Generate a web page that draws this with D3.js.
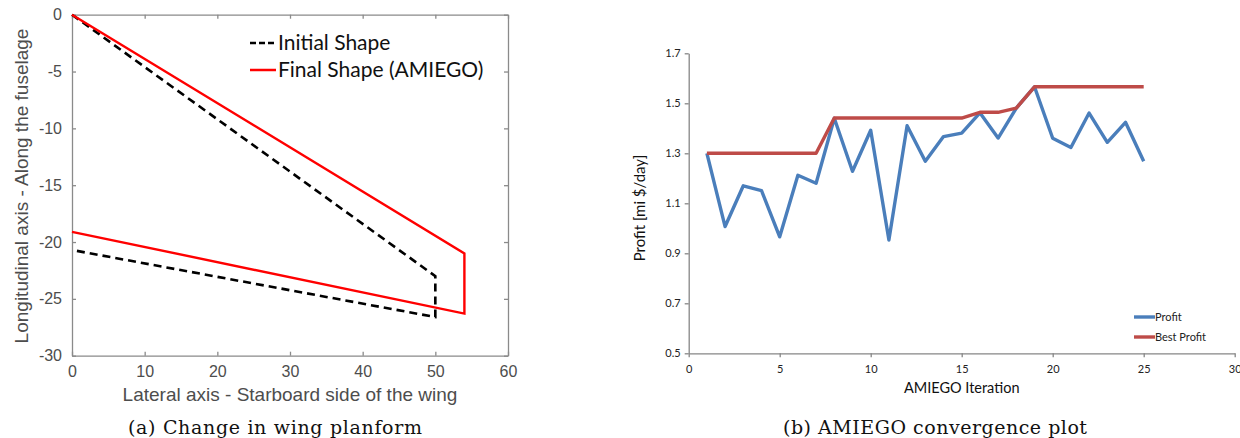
<!DOCTYPE html>
<html lang="en">

<head>
    <meta charset="utf-8">
    <script src="https://d3js.org/d3.v7.min.js"></script>
    <style>
        body {
            margin: 0;
            background: #fff;
        }

        .axis-a text {
            font-family: "Liberation Sans", Arial, sans-serif;
            font-size: 16px;
            fill: #4d4d4d;
        }

        .axis-b text {
            font-family: Lato, sans-serif;
            font-size: 11px;
            fill: #222;
        }

        .caption {
            font-family: "DejaVu Serif", serif;
            font-size: 19px;
            fill: #111;
        }
    </style>
</head>

<body>
    <svg width="1240" height="438"></svg>

    <script>
        // (a) wing planform, points as [lateral, longitudinal]
        var initialShape = [[0, 0], [50, -23.0], [50, -26.6], [0, -20.7]];
        var finalShape = [[0, 0], [54, -21.0], [54, -26.3], [0, -19.1]];
        var aTicksX = [0, 10, 20, 30, 40, 50, 60];
        var aTicksY = [0, -5, -10, -15, -20, -25, -30];

        // (b) convergence
        var iterations = [1, 2, 3, 4, 5, 6, 7, 8, 9, 10, 11, 12, 13, 14, 15, 16, 17, 18, 19, 20, 21, 22, 23, 24, 25];
        var profit = [1.30, 1.007, 1.170, 1.151, 0.966, 1.212, 1.180, 1.440, 1.228, 1.392, 0.953, 1.410, 1.268,
            1.367, 1.381, 1.462, 1.361, 1.481, 1.566, 1.360, 1.323, 1.461, 1.344, 1.424, 1.268];
        var bestProfit = [1.30, 1.30, 1.30, 1.30, 1.30, 1.30, 1.30, 1.441, 1.441, 1.441, 1.441, 1.441, 1.441,
            1.441, 1.441, 1.464, 1.464, 1.481, 1.566, 1.566, 1.566, 1.566, 1.566, 1.566, 1.566];
        var bTicksX = [0, 5, 10, 15, 20, 25, 30];
        var bTicksY = [0.5, 0.7, 0.9, 1.1, 1.3, 1.5, 1.7];

        var svg = d3.select("svg");

        // ---------- panel (a) ----------
        var xa = d3.scaleLinear().domain([0, 60]).range([72, 508]);
        var ya = d3.scaleLinear().domain([-30, 0]).range([355.7, 14.7]);

        var ga = svg.append("g");
        var plainNum = function (d) { return String(d); }; // keep hyphen minus like MATLAB

        // box with inward ticks on every side
        ga.append("g").attr("class", "axis-a")
            .attr("transform", "translate(0," + ya(-30) + ")")
            .call(d3.axisBottom(xa).tickValues(aTicksX).tickFormat(plainNum).tickSizeInner(-4).tickSizeOuter(0).tickPadding(10));
        ga.append("g").attr("class", "axis-a")
            .attr("transform", "translate(0," + ya(0) + ")")
            .call(d3.axisTop(xa).tickValues(aTicksX).tickSizeInner(-4).tickSizeOuter(0).tickFormat(""));
        ga.append("g").attr("class", "axis-a")
            .attr("transform", "translate(" + xa(0) + ",0)")
            .call(d3.axisLeft(ya).tickValues(aTicksY).tickFormat(plainNum).tickSizeInner(-4).tickSizeOuter(0).tickPadding(10));
        ga.append("g").attr("class", "axis-a")
            .attr("transform", "translate(" + xa(60) + ",0)")
            .call(d3.axisRight(ya).tickValues(aTicksY).tickSizeInner(-4).tickSizeOuter(0).tickFormat(""));
        ga.selectAll(".axis-a path, .axis-a line").attr("stroke", "#8a8a8a").attr("stroke-width", 1.3);

        var lineA = d3.line()
            .x(function (d) { return xa(d[0]); })
            .y(function (d) { return ya(d[1]); });

        ga.append("path").datum(initialShape)
            .attr("d", lineA)
            .attr("fill", "none")
            .attr("stroke", "#000")
            .attr("stroke-width", 2.6)
            .attr("stroke-dasharray", "8,5");

        ga.append("path").datum(finalShape)
            .attr("d", lineA)
            .attr("fill", "none")
            .attr("stroke", "#ff0000")
            .attr("stroke-width", 2.4);

        // legend
        var legA = [
            { name: "Initial Shape", color: "#000", dash: "6,3", y: 43 },
            { name: "Final Shape (AMIEGO)", color: "#ff0000", dash: null, y: 70 }
        ];
        legA.forEach(function (d) {
            ga.append("line")
                .attr("x1", 250).attr("x2", 276)
                .attr("y1", d.y).attr("y2", d.y)
                .attr("stroke", d.color)
                .attr("stroke-width", 2.5)
                .attr("stroke-dasharray", d.dash);
            ga.append("text")
                .attr("x", 278).attr("y", d.y + 7)
                .attr("font-family", "Lato, sans-serif")
                .attr("font-size", 21)
                .attr("fill", "#111")
                .text(d.name);
        });

        ga.append("text")
            .attr("x", 290).attr("y", 401)
            .attr("text-anchor", "middle")
            .attr("font-family", "'Liberation Sans', Arial, sans-serif")
            .attr("font-size", 19)
            .attr("fill", "#4d4d4d")
            .text("Lateral axis - Starboard side of the wing");

        ga.append("text")
            .attr("transform", "translate(28,186) rotate(-90)")
            .attr("text-anchor", "middle")
            .attr("font-family", "'Liberation Sans', Arial, sans-serif")
            .attr("font-size", 19)
            .attr("fill", "#4d4d4d")
            .text("Longitudinal axis - Along the fuselage");

        svg.append("text").attr("class", "caption")
            .attr("x", 275).attr("y", 434)
            .attr("text-anchor", "middle")
            .attr("textLength", 294)
            .text("(a) Change in wing planform");

        // ---------- panel (b) ----------
        var xb = d3.scaleLinear().domain([0, 30]).range([688.7, 1234.7]);
        var yb = d3.scaleLinear().domain([0.5, 1.7]).range([353.3, 53.3]);

        var gb = svg.append("g");

        gb.append("g").attr("class", "axis-b")
            .attr("transform", "translate(0," + yb(0.5) + ")")
            .call(d3.axisBottom(xb).tickValues(bTicksX).tickSize(4).tickSizeOuter(0).tickPadding(8));
        gb.append("g").attr("class", "axis-b")
            .attr("transform", "translate(" + xb(0) + ",0)")
            .call(d3.axisLeft(yb).tickValues(bTicksY).tickFormat(d3.format(".1f")).tickSize(4).tickSizeOuter(0).tickPadding(4));
        gb.selectAll(".axis-b path, .axis-b line").attr("stroke", "#868686").attr("stroke-width", 1.3);

        var lineB = d3.line()
            .x(function (d, i) { return xb(iterations[i]); })
            .y(function (d) { return yb(d); });

        gb.append("path").datum(profit)
            .attr("d", lineB)
            .attr("fill", "none")
            .attr("stroke", "#4a7ebb")
            .attr("stroke-width", 3.4)
            .attr("stroke-linejoin", "round");

        gb.append("path").datum(bestProfit)
            .attr("d", lineB)
            .attr("fill", "none")
            .attr("stroke", "#be4b48")
            .attr("stroke-width", 3.4)
            .attr("stroke-linejoin", "round");

        var legB = [
            { name: "Profit", color: "#4a7ebb", y: 317 },
            { name: "Best Profit", color: "#be4b48", y: 337 }
        ];
        legB.forEach(function (d) {
            gb.append("line")
                .attr("x1", 1134).attr("x2", 1155)
                .attr("y1", d.y).attr("y2", d.y)
                .attr("stroke", d.color)
                .attr("stroke-width", 3.4);
            gb.append("text")
                .attr("x", 1155).attr("y", d.y + 4)
                .attr("font-family", "Lato, sans-serif")
                .attr("font-size", 11)
                .attr("fill", "#222")
                .text(d.name);
        });

        gb.append("text")
            .attr("x", xb(15)).attr("y", 393)
            .attr("text-anchor", "middle")
            .attr("font-family", "Lato, sans-serif")
            .attr("font-size", 14.5)
            .attr("fill", "#111")
            .text("AMIEGO Iteration");

        gb.append("text")
            .attr("transform", "translate(645,208) rotate(-90)")
            .attr("text-anchor", "middle")
            .attr("font-family", "Lato, sans-serif")
            .attr("font-size", 15)
            .attr("fill", "#111")
            .text("Profit [mi $/day]");

        svg.append("text").attr("class", "caption")
            .attr("x", 935).attr("y", 434)
            .attr("text-anchor", "middle")
            .attr("textLength", 304)
            .text("(b) AMIEGO convergence plot");
    </script>
</body>

</html>
